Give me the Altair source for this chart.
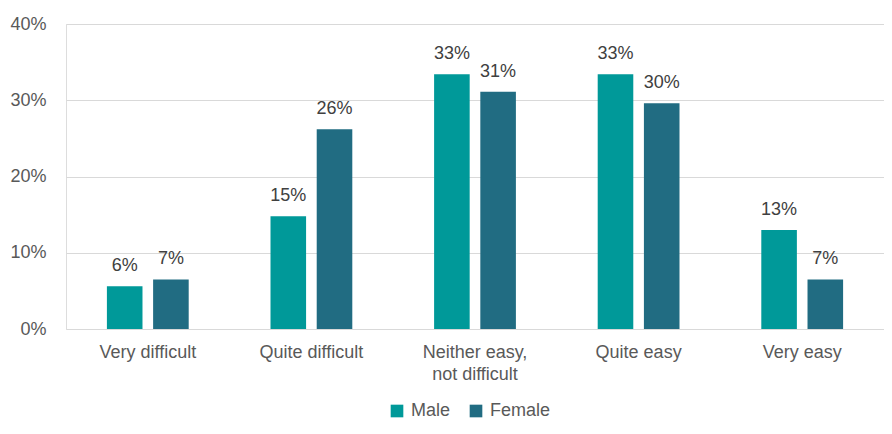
import altair as alt
import pandas as pd

categories = ["Very difficult", "Quite difficult", "Neither easy, not difficult", "Quite easy", "Very easy"]
genders = ["Male", "Female"]
male = [0.056, 0.148, 0.334, 0.334, 0.130]
female = [0.065, 0.262, 0.311, 0.296, 0.065]
colors = ["#009999", "#216C82"]
y_ticks = [0, 0.1, 0.2, 0.3, 0.4]

rows = []
for c, m, f in zip(categories, male, female):
    rows.append({"category": c, "gender": "Male", "value": m})
    rows.append({"category": c, "gender": "Female", "value": f})
df = pd.DataFrame(rows)

FONT = "Liberation Sans"

x = alt.X(
    "category:N",
    sort=categories,
    scale=alt.Scale(paddingInner=0.5, paddingOuter=0.25),
    axis=alt.Axis(
        title=None,
        labelAngle=0,
        labelFontSize=18,
        labelFont=FONT,
        labelColor="#595959",
        labelPadding=14,
        labelLineHeight=22,
        ticks=False,
        grid=False,
        domain=False,
        labelExpr="datum.label == 'Neither easy, not difficult' ? ['Neither easy,', 'not difficult'] : datum.label",
    ),
)
y = alt.Y(
    "value:Q",
    scale=alt.Scale(domain=[0, 0.4]),
    axis=alt.Axis(
        title=None,
        format=".0%",
        values=y_ticks,
        domain=False,
        ticks=False,
        grid=True,
        gridColor="#d9d9d9",
        gridWidth=1,
        labelFontSize=18,
        labelFont=FONT,
        labelColor="#595959",
        labelPadding=20,
    ),
)
xo = alt.XOffset("gender:N", sort=genders, scale=alt.Scale(paddingInner=0.23, paddingOuter=0))

bars = alt.Chart(df).mark_bar().encode(
    x=x,
    y=y,
    xOffset=xo,
    color=alt.Color(
        "gender:N",
        sort=genders,
        scale=alt.Scale(domain=genders, range=colors),
        legend=alt.Legend(
            title=None,
            orient="none",
            legendX=322,
            legendY=378,
            direction="horizontal",
            symbolType="square",
            symbolSize=160,
            symbolStrokeWidth=0,
            labelFontSize=18,
            labelFont=FONT,
            labelColor="#595959",
            labelOffset=5,
            columnPadding=16,
        ),
    ),
)

labels = alt.Chart(df).mark_text(
    dy=-15, baseline="alphabetic", fontSize=18, font=FONT, color="#404040"
).encode(
    x=x,
    y=y,
    xOffset=xo,
    text=alt.Text("value:Q", format=".0%"),
)

chart = (
    alt.layer(bars, labels)
    .properties(
        width=818,
        height=305,
        autosize=alt.AutoSizeParams(type="none"),
        padding={"left": 58, "top": 16, "right": 0, "bottom": 97},
    )
    .configure_view(stroke="transparent")
    .configure_axis(domain=False, ticks=False)
    .configure(background="white")
)

chart.save("out.html", embed_options={"renderer": "svg", "actions": False})
